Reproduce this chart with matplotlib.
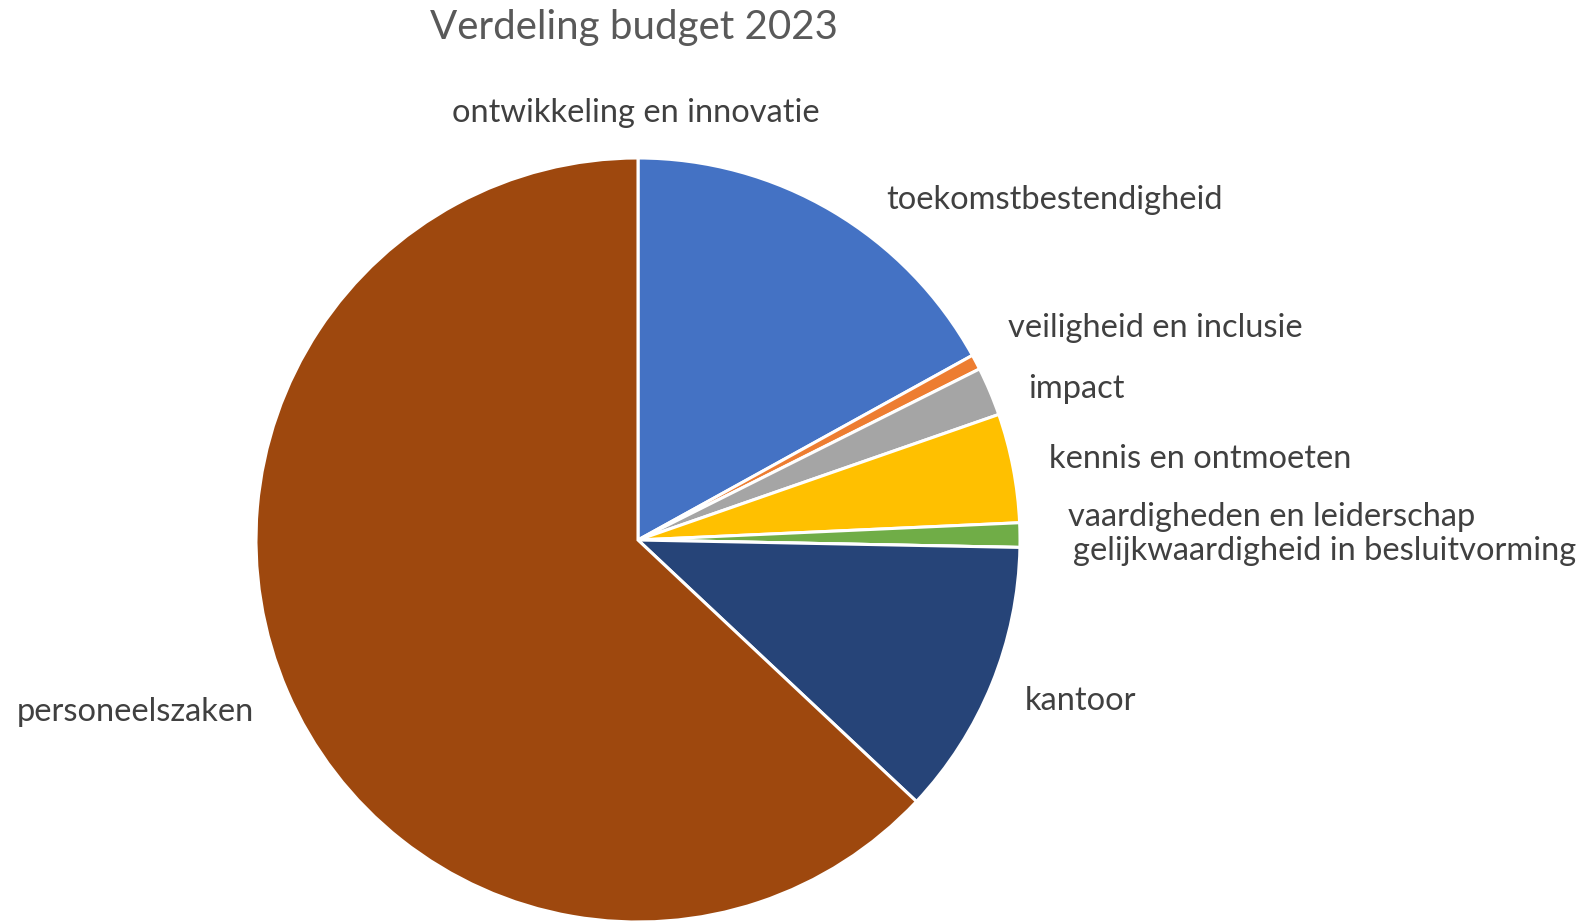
import matplotlib
matplotlib.use('Agg')
import matplotlib.pyplot as plt

W, H = 1588, 923

categories = ['ontwikkeling en innovatie', 'toekomstbestendigheid', 'veiligheid en inclusie',
              'impact', 'kennis en ontmoeten', 'vaardigheden en leiderschap',
              'gelijkwaardigheid in besluitvorming', 'kantoor', 'personeelszaken']
shares = [0.0, 16.97, 0.64, 2.06, 4.61, 1.03, 0.0, 11.69, 63.0]
colors = ['#5B9BD5', '#4472C4', '#ED7D31', '#A5A5A5', '#FFC000', '#70AD47',
          '#636363', '#264478', '#9E480E']

# label anchor points in image pixels (x, y from top), with alignment
label_pos = {
    'ontwikkeling en innovatie': (636, 113, 'center'),
    'toekomstbestendigheid': (886, 200, 'left'),
    'veiligheid en inclusie': (1008, 328, 'left'),
    'impact': (1028, 389, 'left'),
    'kennis en ontmoeten': (1049, 459, 'left'),
    'vaardigheden en leiderschap': (1068, 517, 'left'),
    'gelijkwaardigheid in besluitvorming': (1073, 551, 'left'),
    'kantoor': (1025, 701, 'left'),
    'personeelszaken': (17, 712, 'left'),
}

plt.rcParams['font.family'] = ['Lato', 'DejaVu Sans']

fig = plt.figure(figsize=(W / 100, H / 100), dpi=100)
cx, cy, r = 638, 540, 382
ax = fig.add_axes([(cx - r) / W, (H - cy - r) / H, 2 * r / W, 2 * r / H])
ax.pie(shares, colors=colors, startangle=90, counterclock=False, radius=1,
       wedgeprops=dict(edgecolor='white', linewidth=2.2))
ax.set_xlim(-1, 1)
ax.set_ylim(-1, 1)
ax.set_aspect('equal')
ax.axis('off')

for name in categories:
    x, y, ha = label_pos[name]
    fig.text(x / W, 1 - y / H, name, ha=ha, va='center', fontsize=23.5, color='#404040')

fig.text(634 / W, 1 - 28 / H, 'Verdeling budget 2023', ha='center', va='center',
         fontsize=29, color='#595959')

fig.savefig('out.png', dpi=100)
